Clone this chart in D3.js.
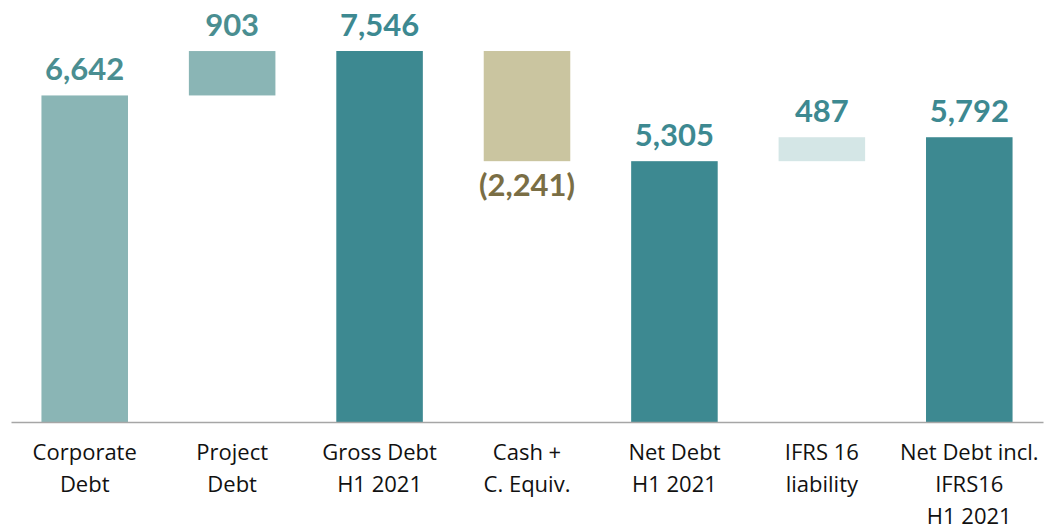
<!DOCTYPE html>
<html><head><meta charset="utf-8">
<script src="https://cdn.jsdelivr.net/npm/d3@7"></script>
<style>html,body{margin:0;padding:0;background:#fff;}svg{display:block;}</style>
</head><body>
<svg id="chart" width="1046" height="531"></svg>
<script>
const categories = [["Corporate","Debt"],["Project","Debt"],["Gross Debt","H1 2021"],["Cash +","C. Equiv."],["Net Debt","H1 2021"],["IFRS 16","liability"],["Net Debt incl.","IFRS16","H1 2021"]];
const values = [6642, 903, 7546, -2241, 5305, 487, 5792];
const kinds = ["total","delta","total","delta","total","delta","total"];
const valueLabels = ["6,642","903","7,546","(2,241)","5,305","487","5,792"];

const fills = ["#8AB5B5","#8AB5B5","#3D8991","#CAC5A0","#3D8991","#D4E6E6","#3D8991"];
const labelColors = ["#4A8E91","#4A8E91","#3D8991","#7A6E45","#3D8991","#3D8991","#3D8991"];

const svg = d3.select("#chart");
const baseline = 422;
const x = d3.scaleBand().domain(d3.range(values.length)).range([11, 1043]).paddingInner(0.413).paddingOuter(0.2065);
const y = d3.scaleLinear().domain([0, 7546]).range([baseline, 51]);

let running = 0;
const bars = values.map((v, i) => {
  let y0, y1;
  if (kinds[i] === "total") { y0 = 0; y1 = v; running = v; }
  else { y0 = running; y1 = running + v; running = y1; }
  return {i, lo: Math.min(y0, y1), hi: Math.max(y0, y1), neg: v < 0};
});

svg.selectAll("rect.bar").data(bars).enter().append("rect")
  .attr("x", d => x(d.i)).attr("width", x.bandwidth())
  .attr("y", d => y(d.hi)).attr("height", d => y(d.lo) - y(d.hi))
  .attr("fill", d => fills[d.i]);

svg.selectAll("text.val").data(bars).enter().append("text")
  .attr("x", d => x(d.i) + x.bandwidth() / 2)
  .attr("y", d => d.neg ? y(d.lo) + 35 : y(d.hi) - 15)
  .attr("text-anchor", "middle")
  .attr("font-family", "Lato, sans-serif").attr("font-weight", "bold").attr("font-size", 31)
  .attr("fill", d => labelColors[d.i])
  .text(d => valueLabels[d.i]);

const xAxis = d3.axisBottom(x).tickSize(0).tickFormat("");
const ax = svg.append("g").attr("transform", `translate(0,${baseline})`).call(xAxis);
ax.select(".domain").attr("stroke", "#A6A6A6").attr("stroke-width", 1.3);

const catG = svg.selectAll("text.cat").data(categories).enter().append("text")
  .attr("text-anchor", "middle")
  .attr("font-family", "'Open Sans', sans-serif").attr("font-size", 22)
  .attr("fill", "#111");
catG.each(function(lines, i) {
  const t = d3.select(this);
  lines.forEach((ln, j) => {
    t.append("tspan").attr("x", x(i) + x.bandwidth() / 2).attr("y", 460 + j * 32).text(ln);
  });
});
</script>
</body></html>
